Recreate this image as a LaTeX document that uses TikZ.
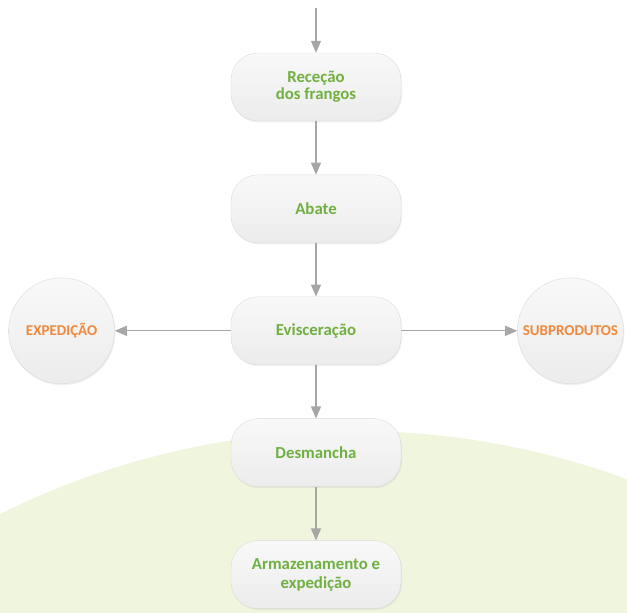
\documentclass[tikz,border=0pt]{standalone}
\usepackage{fontspec}
\setmainfont{Carlito}
\usepackage{tikz}
\usetikzlibrary{arrows.meta,positioning,shadows}
\definecolor{verde}{RGB}{112,176,64}
\definecolor{laranja}{RGB}{240,136,60}
\definecolor{seta}{RGB}{166,166,166}
\definecolor{fundo}{RGB}{240,246,222}
\tikzset{
    %Define standard arrow tip
    >={Triangle[width=10pt,length=12pt]},
    %Define style for boxes
    etapa/.style={
           rectangle,
           rounded corners=27pt,
           top color=gray!5, bottom color=gray!15,
           draw=gray!28, thin,
           drop shadow={opacity=0.12, shadow xshift=1pt, shadow yshift=-1.5pt},
           minimum width=170pt,
           minimum height=68pt,
           align=center,
           font=\bfseries\fontsize{16.8}{19}\selectfont,
           text=verde},
    destino/.style={
           circle,
           top color=gray!5, bottom color=gray!15,
           draw=gray!30, thin,
           drop shadow={opacity=0.12, shadow xshift=1pt, shadow yshift=-1.5pt},
           minimum size=106pt,
           inner sep=1pt,
           font=\bfseries\fontsize{15}{17}\selectfont,
           text=laranja},
    % Define arrow style
    pil/.style={
           ->,
           draw=seta,
           line width=1.3pt}
}
\begin{document}
\begin{tikzpicture}[x=1pt,y=1pt,node distance=53.5pt]
\useasboundingbox (0,0) rectangle (627,613);
 %background
\begin{scope}
\clip (0,0) rectangle (627,613);
\fill[fundo] (354,-612) circle (794);
\end{scope}
 %nodes
\node[etapa] (rec) at (316,526) {Receção\\[-2pt]dos frangos};
\node[etapa, below = of rec] (abate) {Abate};
\node[etapa, below = of abate] (evisc) {Evisceração};
\node[etapa, below = of evisc] (desm) {Desmancha};
\node[etapa, below = of desm] (armaz) {Armazenamento e\\expedição};
\node[destino, left = 116pt of evisc] (exped) {EXPEDIÇÃO};
\node[destino, right = 116pt of evisc] (subp) {SUBPRODUTOS};
\coordinate (entrada) at (316,605);
 %arrows
\draw[pil] (entrada) -- (rec);
\draw[pil] (rec) -- (abate);
\draw[pil] (abate) -- (evisc);
\draw[pil] (evisc) -- (desm);
\draw[pil] (desm) -- (armaz);
\draw[pil] (evisc) -- (exped);
\draw[pil] (evisc) -- (subp);
\end{tikzpicture}
\end{document}
